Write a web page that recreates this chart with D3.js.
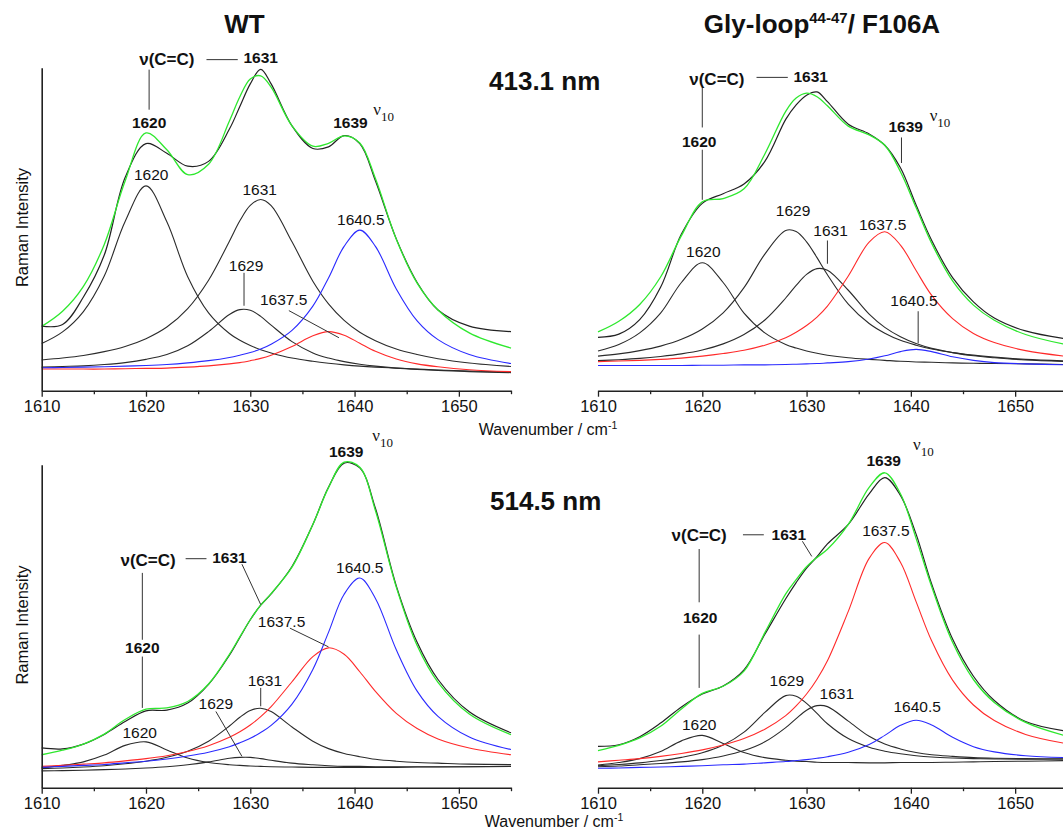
<!DOCTYPE html>
<html>
<head>
<meta charset="utf-8">
<script src="https://cdn.jsdelivr.net/npm/d3@7"></script>
<style>
  body { margin: 0; background: #fff; }
  svg { display: block; font-family: "Liberation Sans", Arial, sans-serif; }
</style>
</head>
<body>
<svg id="chart" width="1063" height="831"></svg>
<script>
// Shared wavenumber grid (cm-1) for every trace
var WAVENUMBERS = [1610, 1612, 1614, 1616, 1618, 1620, 1622, 1624, 1626, 1628, 1629, 1630, 1631,
                   1632, 1634, 1636, 1637.5, 1639, 1640.5, 1642, 1644, 1646, 1648, 1651, 1655];

var MAJOR_TICKS = [1610, 1620, 1630, 1640, 1650];
var MINOR_TICKS = [1615, 1625, 1635, 1645, 1655];

// WT, 413.1 nm excitation
var wt413Exp      = [20.0, 20.5, 29.0, 42.0, 66.0, 76.5, 73.5, 69.5, 71.0, 81.0, 88.0, 95.0, 99.5, 95.0, 82.0, 75.0, 75.5, 79.0, 76.5, 65.0, 47.0, 33.5, 25.0, 20.0, 18.3];
var wt413Fit      = [19.9, 24.6, 32.3, 45.3, 64.9, 79.8, 74.6, 66.9, 70.1, 83.5, 91.0, 96.5, 97.5, 94.0, 82.0, 75.7, 76.6, 78.9, 76.7, 65.7, 46.9, 33.3, 25.0, 17.9, 13.2];
var wt413Band1620 = [14.6, 18.2, 24.5, 35.5, 52.4, 63.4, 52.3, 35.3, 24.1, 17.7, 15.6, 14.0, 12.7, 11.7, 10.1, 9.1, 8.5, 8.0, 7.6, 7.3, 7.0, 6.7, 6.4, 6.1, 5.8];
var wt413Band1629 = [7.3, 7.5, 7.7, 8.1, 8.7, 9.7, 11.2, 13.9, 18.3, 23.6, 25.1, 24.9, 23.0, 20.3, 15.2, 11.7, 10.1, 9.0, 8.2, 7.6, 7.0, 6.6, 6.3, 5.9, 5.6];
var wt413Band1631 = [9.5, 10.1, 10.9, 12.1, 13.7, 16.1, 19.7, 25.4, 34.2, 46.3, 52.6, 57.4, 59.2, 57.3, 46.1, 33.9, 26.9, 21.8, 18.1, 15.5, 12.9, 11.2, 9.9, 8.6, 7.5];
var wt413Band1637 = [6.7, 6.7, 6.7, 6.7, 6.8, 6.9, 7.0, 7.3, 7.7, 8.3, 8.7, 9.3, 10.0, 11.0, 13.7, 17.0, 18.3, 17.2, 14.7, 12.2, 9.8, 8.3, 7.4, 6.5, 5.9];
var wt413Band1640 = [7.1, 7.2, 7.3, 7.4, 7.6, 7.8, 8.1, 8.6, 9.3, 10.3, 11.0, 11.8, 12.9, 14.4, 18.7, 26.2, 34.9, 44.7, 49.7, 44.7, 31.5, 21.6, 15.8, 11.2, 8.4];

// Gly-loop44-47/F106A, 413.1 nm
var mut413Exp      = [16.5, 17.5, 22.0, 32.0, 48.5, 58.0, 61.0, 64.0, 71.0, 84.0, 88.5, 91.5, 92.5, 89.5, 82.5, 79.5, 76.0, 69.0, 57.5, 46.5, 35.0, 27.5, 22.5, 18.5, 16.0];
var mut413Fit      = [18.2, 21.5, 26.7, 35.2, 48.0, 58.5, 59.5, 62.5, 73.3, 86.5, 90.6, 92.1, 91.0, 88.2, 81.9, 79.2, 76.0, 67.8, 56.7, 45.6, 34.0, 26.5, 21.8, 17.4, 14.2];
var mut413Band1620 = [12.3, 14.3, 17.9, 24.0, 33.5, 39.6, 33.5, 24.0, 17.9, 14.3, 13.2, 12.3, 11.6, 11.0, 10.2, 9.7, 9.4, 9.1, 8.9, 8.8, 8.6, 8.5, 8.4, 8.3, 8.1];
var mut413Band1629 = [10.7, 11.4, 12.4, 13.8, 15.9, 19.1, 24.1, 31.9, 42.3, 49.6, 49.3, 46.1, 41.2, 35.9, 26.8, 20.8, 17.8, 15.6, 14.1, 12.9, 11.8, 11.0, 10.4, 9.7, 9.2];
var mut413Band1631 = [9.3, 9.6, 10.0, 10.6, 11.4, 12.6, 14.5, 17.4, 21.9, 28.7, 32.6, 36.0, 37.8, 37.3, 31.1, 23.7, 19.6, 16.7, 14.6, 13.1, 11.8, 10.8, 10.2, 9.5, 9.0];
var mut413Band1637 = [9.0, 9.2, 9.4, 9.7, 10.1, 10.7, 11.5, 12.5, 14.1, 16.4, 18.1, 20.2, 22.8, 26.2, 35.5, 46.0, 49.2, 45.1, 37.2, 29.5, 22.3, 17.7, 14.9, 12.4, 10.6];
var mut413Band1640 = [7.8, 7.8, 7.8, 7.8, 7.8, 7.9, 7.9, 8.0, 8.0, 8.1, 8.2, 8.3, 8.4, 8.6, 9.0, 9.8, 10.8, 12.1, 12.8, 12.1, 10.5, 9.4, 8.7, 8.3, 8.0];

// WT, 514.5 nm
var wt514Exp      = [12.3, 12.0, 13.5, 16.5, 20.5, 23.8, 24.0, 26.2, 32.0, 41.0, 46.5, 52.0, 56.5, 60.0, 68.5, 81.5, 93.0, 100.5, 99.0, 86.5, 62.5, 45.0, 33.5, 23.5, 17.0];
var wt514Fit      = [10.2, 11.6, 13.5, 16.6, 21.1, 24.3, 24.7, 26.7, 32.1, 41.3, 46.7, 52.0, 56.5, 60.1, 68.3, 81.5, 92.9, 100.8, 99.2, 85.8, 62.1, 44.0, 32.6, 22.8, 16.4];
var wt514Band1620 = [6.2, 6.9, 8.0, 10.1, 13.1, 14.2, 11.7, 9.2, 7.8, 7.1, 6.9, 6.7, 6.6, 6.5, 6.4, 6.3, 6.3, 6.3, 6.3, 6.3, 6.3, 6.4, 6.4, 6.5, 6.6];
var wt514Band1629 = [5.2, 5.3, 5.4, 5.6, 5.8, 6.1, 6.5, 7.1, 8.0, 9.1, 9.4, 9.4, 9.0, 8.5, 7.6, 7.1, 6.8, 6.6, 6.6, 6.5, 6.5, 6.5, 6.5, 6.5, 6.6];
var wt514Band1631 = [5.9, 6.1, 6.4, 6.8, 7.4, 8.2, 9.4, 11.3, 14.4, 19.1, 21.8, 23.9, 24.6, 23.6, 18.8, 14.4, 12.1, 10.6, 9.6, 8.8, 8.2, 7.8, 7.6, 7.3, 7.2];
var wt514Band1637 = [6.6, 6.9, 7.3, 7.7, 8.3, 9.0, 9.9, 11.2, 13.0, 15.6, 17.3, 19.4, 22.0, 25.1, 32.8, 40.6, 43.3, 41.3, 35.9, 29.8, 23.0, 18.3, 15.1, 12.3, 10.2];
var wt514Band1640 = [6.3, 6.6, 6.9, 7.2, 7.7, 8.2, 8.9, 9.8, 11.0, 12.7, 13.9, 15.3, 17.1, 19.3, 25.9, 36.6, 48.1, 59.9, 64.9, 58.6, 42.7, 29.9, 22.1, 15.7, 11.8];

// Gly-loop44-47/F106A, 514.5 nm
var mut514Exp      = [12.8, 13.3, 15.8, 20.0, 25.0, 29.0, 31.5, 36.5, 47.5, 58.5, 63.5, 68.0, 71.5, 75.5, 81.5, 91.0, 96.0, 90.5, 78.5, 63.0, 46.0, 34.5, 27.0, 20.5, 17.5];
var mut514Fit      = [11.5, 13.1, 15.4, 19.0, 24.4, 29.2, 31.4, 36.1, 48.0, 60.0, 64.4, 68.4, 71.3, 73.8, 81.5, 93.0, 97.5, 91.0, 77.2, 62.2, 45.0, 33.5, 26.4, 20.2, 15.9];
var mut514Band1620 = [7.0, 7.8, 9.0, 11.2, 14.5, 16.2, 13.7, 10.9, 9.3, 8.5, 8.2, 8.1, 7.9, 7.8, 7.8, 7.7, 7.7, 7.8, 7.8, 7.8, 7.9, 8.0, 8.1, 8.2, 8.4];
var mut514Band1629 = [6.8, 7.2, 7.7, 8.4, 9.4, 10.8, 13.2, 17.2, 23.3, 28.5, 28.3, 26.1, 23.0, 19.8, 15.2, 12.5, 11.3, 10.5, 9.9, 9.5, 9.2, 9.0, 8.9, 8.8, 8.9];
var mut514Band1631 = [6.5, 6.7, 7.1, 7.5, 8.0, 8.7, 9.8, 11.5, 14.2, 18.6, 21.4, 24.0, 25.4, 25.1, 20.6, 15.9, 13.5, 12.0, 10.9, 10.2, 9.7, 9.3, 9.1, 9.0, 8.9];
var mut514Band1637 = [8.0, 8.5, 9.0, 9.7, 10.6, 11.7, 13.2, 15.2, 18.1, 22.3, 25.3, 29.0, 33.6, 39.3, 54.6, 71.0, 75.9, 69.8, 57.6, 45.4, 33.3, 25.6, 20.8, 16.5, 13.6];
var mut514Band1640 = [6.0, 6.1, 6.3, 6.4, 6.6, 6.8, 7.1, 7.3, 7.7, 8.1, 8.4, 8.7, 9.1, 9.6, 11.0, 13.4, 16.2, 19.3, 20.9, 19.4, 15.6, 12.7, 11.1, 9.9, 9.3];

// Annotations: [text, wavenumber, intensity, style]
var wt413Labels = [
  ['ν(C=C)', 1622.0, 100.9, 'big'], ['1631', 1631.0, 101.5, 'bold'],
  ['1620', 1620.3, 81.4, 'bold'], ['1639', 1639.6, 81.4, 'bold'],
  ['1620', 1620.5, 65.3, 'plain'], ['1631', 1630.9, 60.7, 'plain'],
  ['1629', 1629.6, 37.2, 'plain'], ['1637.5', 1633.2, 26.6, 'plain'],
  ['1640.5', 1640.6, 51.4, 'plain']
];
var wt413Leaders = [[1625.8, 102.5, 1628.8, 102.5], [1620.3, 99.4, 1620.3, 87.0],
                    [1629.4, 36.5, 1629.4, 26.3], [1633.7, 24.8, 1638.5, 16.4]];

var mut413Labels = [
  ['ν(C=C)', 1621.4, 94.7, 'big'], ['1631', 1630.4, 95.5, 'bold'],
  ['1620', 1619.7, 75.6, 'bold'], ['1639', 1639.5, 80.0, 'bold'],
  ['1629', 1628.7, 54.2, 'plain'], ['1631', 1632.3, 47.8, 'plain'],
  ['1637.5', 1637.3, 49.8, 'plain'], ['1620', 1620.1, 41.3, 'plain'],
  ['1640.5', 1640.3, 26.1, 'plain']
];
var mut413Leaders = [[1625.2, 97.0, 1628.2, 97.0], [1620.0, 94.0, 1620.0, 81.5],
                     [1620.0, 74.6, 1620.0, 59.1], [1639.1, 78.4, 1639.1, 70.5],
                     [1632.0, 46.5, 1632.0, 39.3], [1640.7, 24.6, 1640.7, 14.7]];

var wt514Labels = [
  ['1639', 1639.2, 102.4, 'bold'], ['ν(C=C)', 1620.2, 68.5, 'big'],
  ['1631', 1628.0, 69.6, 'bold'], ['1620', 1619.65, 41.7, 'bold'],
  ['1640.5', 1640.5, 66.5, 'plain'], ['1637.5', 1633.0, 49.9, 'plain'],
  ['1631', 1631.4, 31.4, 'plain'], ['1629', 1626.7, 24.4, 'plain'],
  ['1620', 1619.4, 15.4, 'plain']
];
var wt514Leaders = [[1623.8, 70.9, 1625.8, 70.9], [1629.2, 69.2, 1631.0, 56.7],
                    [1619.65, 66.5, 1619.65, 45.8], [1619.65, 40.6, 1619.65, 24.7],
                    [1633.8, 49.4, 1637.5, 43.6], [1631.0, 30.9, 1631.0, 25.2],
                    [1626.7, 23.6, 1629.2, 9.7]];

var mut514Labels = [
  ['1639', 1637.4, 99.7, 'bold'], ['ν(C=C)', 1619.7, 76.3, 'big'],
  ['1631', 1628.3, 76.8, 'bold'], ['1620', 1619.8, 51.0, 'bold'],
  ['1637.5', 1637.6, 77.8, 'plain'], ['1629', 1628.1, 31.6, 'plain'],
  ['1631', 1632.9, 27.6, 'plain'], ['1620', 1619.7, 18.0, 'plain'],
  ['1640.5', 1640.6, 23.3, 'plain']
];
var mut514Leaders = [[1623.9, 78.3, 1625.9, 78.3], [1629.6, 76.3, 1630.5, 71.6],
                     [1619.7, 73.9, 1619.7, 57.4], [1619.7, 47.4, 1619.7, 30.9]];

var PANEL_WIDTH = 469.3;
var PANEL_HEIGHT = 323;

var BLACK = '#2b2b2b';
var GREEN = '#2ee82e';
var RED = '#ff2a2a';
var BLUE = '#2a2aff';

var LABEL_STYLES = {
  big:   { size: 17,   weight: 'bold' },
  bold:  { size: 15.5, weight: 'bold' },
  plain: { size: 15.5, weight: 'normal' }
};

function bandsFor(b1620, b1629, b1631, b1637, b1640) {
  return [
    { values: b1620, color: BLACK },
    { values: b1629, color: BLACK },
    { values: b1631, color: BLACK },
    { values: b1637, color: RED },
    { values: b1640, color: BLUE }
  ];
}

var panels = [
  { left: 41.7, top: 67.7, yAxis: true, exp: wt413Exp, fit: wt413Fit,
    bands: bandsFor(wt413Band1620, wt413Band1629, wt413Band1631, wt413Band1637, wt413Band1640),
    labels: wt413Labels, leaders: wt413Leaders, nu: [1641.8, 85.4] },
  { left: 598, top: 67.7, yAxis: false, exp: mut413Exp, fit: mut413Fit,
    bands: bandsFor(mut413Band1620, mut413Band1629, mut413Band1631, mut413Band1637, mut413Band1640),
    labels: mut413Labels, leaders: mut413Leaders, nu: [1641.8, 83.4] },
  { left: 41.7, top: 464.7, yAxis: true, exp: wt514Exp, fit: wt514Fit,
    bands: bandsFor(wt514Band1620, wt514Band1629, wt514Band1631, wt514Band1637, wt514Band1640),
    labels: wt514Labels, leaders: wt514Leaders, nu: [1641.7, 107.2] },
  { left: 598, top: 464.7, yAxis: false, exp: mut514Exp, fit: mut514Fit,
    bands: bandsFor(mut514Band1620, mut514Band1629, mut514Band1631, mut514Band1637, mut514Band1640),
    labels: mut514Labels, leaders: mut514Leaders, nu: [1640.2, 104.6] }
];

function drawPanel(svg, p) {
  var x = d3.scaleLinear().domain([1610, 1655]).range([p.left, p.left + PANEL_WIDTH]);
  var y = d3.scaleLinear().domain([0, 100]).range([p.top + PANEL_HEIGHT, p.top]);
  var g = svg.append('g');

  var line = d3.line()
    .x(function(d, i) { return x(WAVENUMBERS[i]); })
    .y(function(d) { return y(d); })
    .curve(d3.curveCatmullRom.alpha(0.5));

  g.selectAll('path.band')
    .data(p.bands)
    .enter()
    .append('path')
      .attr('class', 'band')
      .attr('d', function(d) { return line(d.values); })
      .attr('fill', 'none')
      .attr('stroke', function(d) { return d.color; })
      .attr('stroke-width', 1.1);

  g.append('path')
    .attr('d', line(p.exp))
    .attr('fill', 'none')
    .attr('stroke', '#222')
    .attr('stroke-width', 1.2);

  g.append('path')
    .attr('d', line(p.fit))
    .attr('fill', 'none')
    .attr('stroke', GREEN)
    .attr('stroke-width', 1.3);

  // x axis: labelled major ticks, short minor ticks
  var base = p.top + PANEL_HEIGHT;
  var major = g.append('g')
    .attr('transform', 'translate(0,' + base + ')')
    .call(d3.axisBottom(x).tickValues(MAJOR_TICKS).tickSize(6).tickSizeOuter(0)
          .tickPadding(4).tickFormat(d3.format('d')));
  var minor = g.append('g')
    .attr('transform', 'translate(0,' + base + ')')
    .call(d3.axisBottom(x).tickValues(MINOR_TICKS).tickSize(3.5).tickSizeOuter(0).tickFormat(''));
  minor.select('.domain').remove();

  [major, minor].forEach(function(a) {
    a.attr('font-family', null).attr('font-size', null);
    a.selectAll('line').attr('stroke', '#222').attr('stroke-width', 1.3);
  });
  major.select('.domain').attr('stroke', '#222').attr('stroke-width', 1.6);
  major.selectAll('text')
    .attr('font-size', 16.5)
    .attr('fill', '#111');

  if (p.yAxis) {
    var ya = g.append('g')
      .attr('transform', 'translate(' + p.left + ',0)')
      .call(d3.axisLeft(y).tickValues([]).tickSizeOuter(0));
    ya.select('.domain').attr('stroke', '#222').attr('stroke-width', 1.6);
  }

  g.selectAll('line.leader')
    .data(p.leaders)
    .enter()
    .append('line')
      .attr('class', 'leader')
      .attr('x1', function(d) { return x(d[0]); })
      .attr('y1', function(d) { return y(d[1]); })
      .attr('x2', function(d) { return x(d[2]); })
      .attr('y2', function(d) { return y(d[3]); })
      .attr('stroke', '#333')
      .attr('stroke-width', 1);

  g.selectAll('text.note')
    .data(p.labels)
    .enter()
    .append('text')
      .attr('class', 'note')
      .attr('x', function(d) { return x(d[1]); })
      .attr('y', function(d) { return y(d[2]); })
      .attr('text-anchor', 'middle')
      .attr('font-size', function(d) { return LABEL_STYLES[d[3]].size; })
      .attr('font-weight', function(d) { return LABEL_STYLES[d[3]].weight; })
      .attr('fill', '#111')
      .text(function(d) { return d[0]; });

  var nu = g.append('text')
    .attr('x', x(p.nu[0]))
    .attr('y', y(p.nu[1]))
    .attr('font-family', '"Liberation Serif", "Times New Roman", serif')
    .attr('font-size', 17)
    .attr('fill', '#111');
  nu.append('tspan').text('ν');
  nu.append('tspan').attr('dy', 6).attr('font-size', 13).text('10');
}

var svg = d3.select('#chart');

panels.forEach(function(p) { drawPanel(svg, p); });

// titles
svg.append('text')
  .attr('x', 244.5).attr('y', 33)
  .attr('text-anchor', 'middle')
  .attr('font-size', 26).attr('font-weight', 'bold').attr('fill', '#111')
  .text('WT');

var mutTitle = svg.append('text')
  .attr('x', 822).attr('y', 33)
  .attr('text-anchor', 'middle')
  .attr('font-size', 26).attr('font-weight', 'bold').attr('fill', '#111');
mutTitle.append('tspan').text('Gly-loop');
mutTitle.append('tspan').attr('font-size', 15).attr('dy', -10).text('44-47');
mutTitle.append('tspan').attr('dy', 10).text('/ F106A');

svg.append('text')
  .attr('x', 489).attr('y', 90)
  .attr('font-size', 26).attr('font-weight', 'bold').attr('fill', '#111')
  .text('413.1 nm');
svg.append('text')
  .attr('x', 490).attr('y', 510)
  .attr('font-size', 26).attr('font-weight', 'bold').attr('fill', '#111')
  .text('514.5 nm');

// axis titles
[[548, 435], [554, 827.4]].forEach(function(pos) {
  var t = svg.append('text')
    .attr('x', pos[0]).attr('y', pos[1])
    .attr('text-anchor', 'middle')
    .attr('font-size', 16).attr('fill', '#111');
  t.append('tspan').text('Wavenumber / cm');
  t.append('tspan').attr('font-size', 10.5).attr('dy', -6).text('-1');
});

[227.5, 625].forEach(function(cy) {
  svg.append('text')
    .attr('transform', 'translate(22,' + cy + ') rotate(-90)')
    .attr('text-anchor', 'middle')
    .attr('dominant-baseline', 'central')
    .attr('font-size', 16.5).attr('fill', '#111')
    .text('Raman Intensity');
});
</script>
</body>
</html>
